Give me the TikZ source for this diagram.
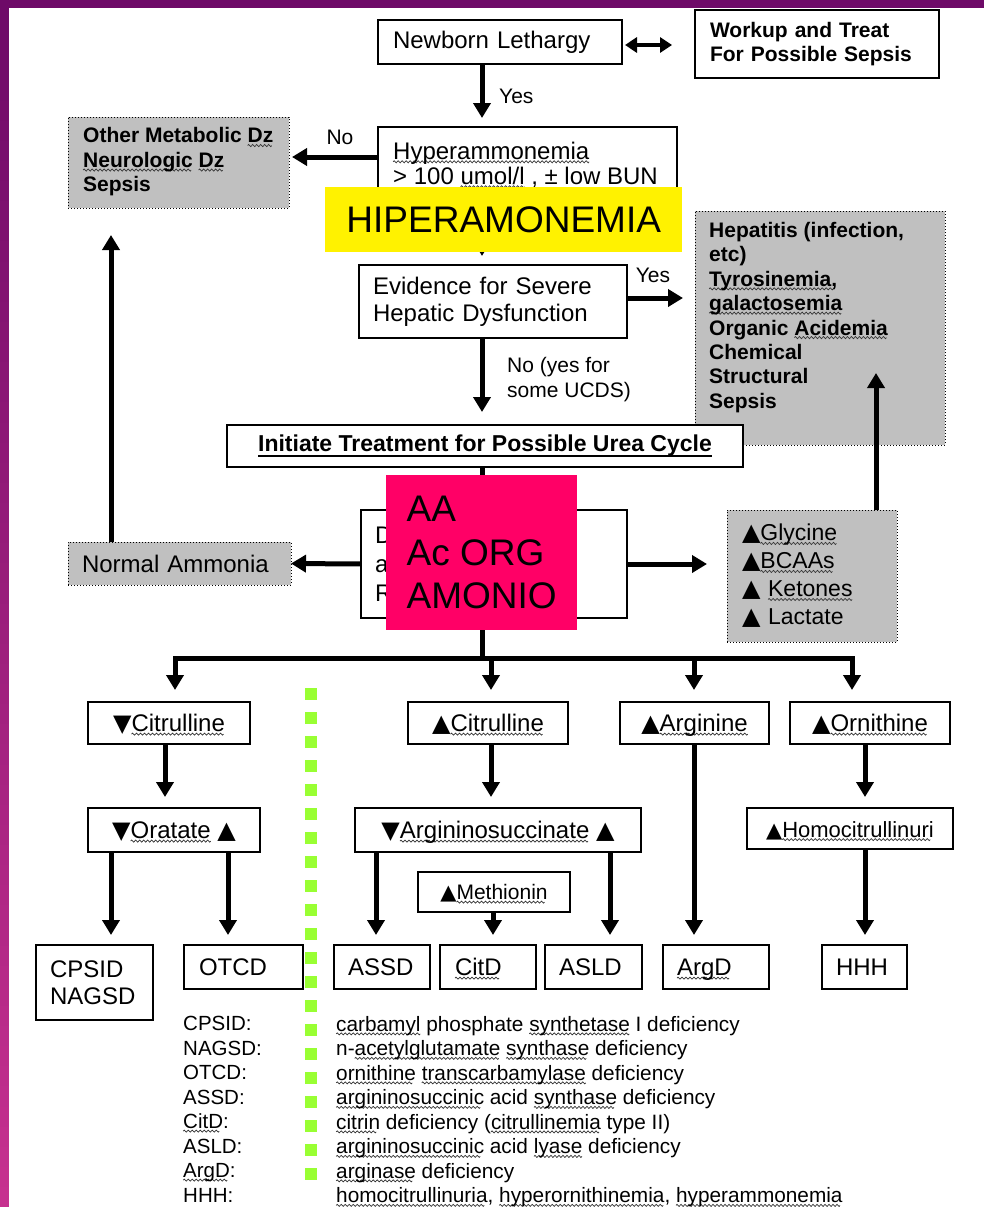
\documentclass[tikz,border=0pt]{standalone}
\usepackage{fontspec}
\setmainfont{Liberation Sans}
\newfontfamily\symf{DejaVu Sans}
\usetikzlibrary{arrows.meta}
\definecolor{purpA}{HTML}{6E0A68}
\definecolor{purpB}{HTML}{C6318F}
\definecolor{gboxc}{HTML}{C0C0C0}
\definecolor{pinkc}{HTML}{FF0066}
\definecolor{limec}{HTML}{99FF33}
\definecolor{wavec}{HTML}{333333}
\newcommand\upt{{\symf\fontsize{24}{24}\selectfont ▲}}
\newcommand\dnt{{\symf\fontsize{24}{24}\selectfont ▼}}
\newcommand\uptsm{{\symf\fontsize{21}{21}\selectfont ▲}}
\newsavebox\wavebox
\newcommand\sq[1]{\leavevmode\setbox0\hbox{#1}\rlap{\raisebox{-4pt}[0pt][0pt]{\hbox to \wd0{\leaders\copy\wavebox\hfill}}}\box0\relax}
\newcommand\ulbar[1]{\leavevmode\setbox0\hbox{#1}\rlap{\raisebox{-5pt}[0pt][0pt]{\rule{\wd0}{2pt}}}\box0\relax}
\tikzset{
 bx/.style={draw, line width=1.3pt, fill=white, inner sep=0pt, outer sep=0pt, anchor=north west},
 gb/.style={draw, line width=1pt, dash pattern=on 1pt off 2pt, fill=gboxc, inner sep=0pt, outer sep=0pt, anchor=north west},
 arr/.style={line width=5pt, -{Triangle[width=17pt,length=15pt]}},
 darr/.style={line width=4.5pt, {Triangle[width=15pt,length=12pt]}-{Triangle[width=15pt,length=12pt]}},
 thk/.style={line width=5pt},
 f24/.style={font=\fontsize{24}{27}\selectfont},
 tl/.style={text height=17pt, text depth=0pt},
 b21/.style={font=\bfseries\fontsize{21}{24.5}\selectfont},
 lbl/.style={font=\fontsize{21}{25}\selectfont, inner sep=0pt, align=left},
}
\begin{document}
\sbox\wavebox{\begin{pgfpicture}%
\pgfpathrectangle{\pgfpoint{0pt}{-1.4pt}}{\pgfpoint{4pt}{2.8pt}}%
\pgfusepath{use as bounding box}%
\pgfpathmoveto{\pgfpoint{0pt}{0pt}}%
\pgfpathcurveto{\pgfpoint{1pt}{1.4pt}}{\pgfpoint{1pt}{1.4pt}}{\pgfpoint{2pt}{0pt}}%
\pgfpathcurveto{\pgfpoint{3pt}{-1.4pt}}{\pgfpoint{3pt}{-1.4pt}}{\pgfpoint{4pt}{0pt}}%
\pgfsetlinewidth{0.7pt}\pgfsetstrokecolor{wavec}%
\pgfusepath{stroke}%
\end{pgfpicture}}%
\begin{tikzpicture}[x=1pt,y=-1pt]
\useasboundingbox (0,0) rectangle (984,1207);
\fill[white] (0,0) rectangle (984,1207);
% purple frame
\foreach \i in {0,...,59} {
  \pgfmathsetmacro\p{100*\i/59}
  \fill[purpB!\p!purpA] (0,\i*20.12) rectangle (9,\i*20.12+20.6);
}
\fill[purpA] (0,0) rectangle (984,8);
% green dotted column
\foreach \k in {0,...,20} \fill[limec] (305,688+24*\k) rectangle +(12,12);

% top part
\node[bx, f24, minimum width=244pt, minimum height=44pt, text width=214pt, align=left] (newborn) at (378,20) {Newborn Lethargy};
\node[bx, b21, minimum width=244pt, minimum height=68pt, text width=214pt, align=left] (workup) at (695,10) {Workup and Treat\\For Possible Sepsis};
\node[bx, minimum width=299pt, minimum height=75pt] (hyper) at (378,127) {};
\node[anchor=west, inner sep=0pt, align=left, font=\fontsize{24}{25}\selectfont] (hypertx) at (393,164.5) {\sq{Hyperammonemia}\\> 100 \sq{umol/l} , ± low BUN};
\node[gb, minimum width=221pt, minimum height=91pt] (other) at (68,117) {};
\node[anchor=west, inner sep=0pt, align=left, b21] (othertx) at (83,162) {Other Metabolic \sq{Dz}\\\sq{Neurologic} \sq{Dz}\\Sepsis};
\node[bx, f24, minimum width=268pt, minimum height=73pt, text width=240pt, align=left] (evid) at (359,265) {Evidence for Severe\\Hepatic Dysfunction};
\node[gb, minimum width=250pt, minimum height=234pt] (hep) at (695,211) {};
\node[anchor=north west, inner sep=0pt, align=left, font=\bfseries\fontsize{21}{24.4}\selectfont] (heptx) at (709,222) {Hepatitis (infection,\\etc)\\\sq{Tyrosinemia,}\\\sq{galactosemia}\\Organic \sq{Acidemia}\\Chemical\\Structural\\Sepsis};
\node[bx, minimum width=516pt, minimum height=42pt, font=\bfseries\fontsize{23}{23}\selectfont] (init) at (227,425) {\ulbar{Initiate Treatment for Possible Urea Cycle}};
\node[gb, f24, minimum width=223pt, minimum height=43pt, text width=195pt, align=left] (normal) at (68,542) {Normal Ammonia};
\node[gb, minimum width=170pt, minimum height=132pt, text width=140pt, align=left, font=\fontsize{23}{28}\selectfont] (gly) at (727,510) {\upt\sq{Glycine}\\\upt\sq{BCAAs}\\\upt\ \sq{Ketones}\\\upt\ Lactate};

% second level
\node[bx, f24, tl, minimum width=162pt, minimum height=42pt] (cit1) at (88,702) {\dnt\sq{Citrulline}};
\node[bx, f24, tl, minimum width=160pt, minimum height=42pt] (cit2) at (408,702) {\upt\sq{Citrulline}};
\node[bx, f24, tl, minimum width=149pt, minimum height=42pt] (arg) at (620,702) {\upt\sq{Arginine}};
\node[bx, f24, tl, minimum width=160pt, minimum height=42pt] (orn) at (790,702) {\upt\sq{Ornithine}};
% third level
\node[bx, f24, tl, minimum width=172pt, minimum height=44pt] (orat) at (88,808) {\dnt\sq{Oratate} \upt};
\node[bx, f24, tl, minimum width=286pt, minimum height=44pt] (argsuc) at (355,808) {\dnt\sq{Argininosuccinate} \upt};
\node[bx, tl, minimum width=206pt, minimum height=41pt, font=\fontsize{22}{22}\selectfont] (homoc) at (747,808) {\uptsm\sq{Homocitrullinuri}};
\node[bx, minimum width=152pt, minimum height=40pt, text height=15pt, text depth=0pt, font=\fontsize{21}{21}\selectfont] (meth) at (418,872) {\uptsm\sq{Methionin}};
% bottom level
\node[bx, f24, minimum width=117pt, minimum height=75pt, text width=89pt, align=left] (cpsid) at (36,945) {CPSID\\NAGSD};
\node[bx, f24, tl, minimum width=119pt, minimum height=44pt, text width=89pt, align=left] (otcd) at (184,945) {OTCD};
\node[bx, f24, tl, minimum width=96pt, minimum height=44pt, text width=68pt, align=left] (assd) at (334,945) {ASSD};
\node[bx, f24, tl, minimum width=96pt, minimum height=44pt, text width=66pt, align=left] (citd) at (440,945) {\sq{CitD}};
\node[bx, f24, tl, minimum width=97pt, minimum height=44pt, text width=69pt, align=left] (asld) at (545,945) {ASLD};
\node[bx, f24, tl, minimum width=106pt, minimum height=44pt, text width=78pt, align=left] (argd) at (663,945) {\sq{ArgD}};
\node[bx, f24, tl, minimum width=85pt, minimum height=44pt, text width=57pt, align=left] (hhh) at (822,945) {HHH};

% legend
\node[anchor=north west, inner sep=0pt, align=left, font=\fontsize{20.5}{24.5}\selectfont] (abbr) at (183,1016) {CPSID:\\NAGSD:\\OTCD:\\ASSD:\\\sq{CitD}:\\ASLD:\\\sq{ArgD}:\\HHH:};
\node[anchor=north west, inner sep=0pt, align=left, font=\fontsize{20.8}{24.5}\selectfont] (desc) at (336,1016) {\sq{carbamyl} phosphate \sq{synthetase} I deficiency\\n-\sq{acetylglutamate} \sq{synthase} deficiency\\\sq{ornithine} \sq{transcarbamylase} deficiency\\\sq{argininosuccinic} acid \sq{synthase} deficiency\\\sq{citrin} deficiency (\sq{citrullinemia} type II)\\\sq{argininosuccinic} acid \sq{lyase} deficiency\\\sq{arginase} deficiency\\\sq{homocitrullinuria}, \sq{hyperornithinemia}, \sq{hyperammonemia}};

% helper coordinates
\coordinate (sx) at (482,0);
\coordinate (ox) at (111,0);
\coordinate (y45) at (0,45);
\coordinate (y157) at (0,157);
\coordinate (y298) at (0,298);
\coordinate (bl) at (175,658);
\coordinate (b2) at (491,658);
\coordinate (b3) at (694,658);
\coordinate (br) at (852,658);
\coordinate (hepin) at (876,373);
\coordinate (c1) at (165,0);
\coordinate (c2) at (491,0);
\coordinate (c3) at (694,0);
\coordinate (c4) at (865,0);
\coordinate (c5) at (111,0);
\coordinate (c6) at (228,0);
\coordinate (c7) at (376,0);
\coordinate (c8) at (610,0);
\coordinate (c9) at (493,0);

% labels
\node[lbl, anchor=west] (yes1) at (499,96) {Yes};
\node[lbl] (no1) at (340,137) {No};
\node[lbl] (yes2) at (653,275) {Yes};
\node[lbl, anchor=north west] (nolbl) at (507,357) {No (yes for\\some UCDS)};

% connectors (top)
\draw[darr, shorten <=3pt, shorten >=23pt] (newborn.east |- y45) -- (workup.west |- y45);
\draw[arr, shorten >=9pt] (newborn.south -| sx) -- (hyper.north -| sx);
\draw[arr, shorten >=3pt] (hyper.west |- y157) -- (other.east |- y157);
\draw[arr, shorten >=9pt] (hyper.south -| sx) -- (evid.north -| sx);
\draw[arr, shorten >=12pt] (evid.east |- y298) -- (hep.west |- y298);
\draw[arr, shorten >=13pt] (evid.south -| sx) -- (init.north -| sx);
\draw[arr, shorten >=27pt] (normal.north -| ox) -- (other.south -| ox);
\draw[arr] (gly.north -| hepin) -- (hepin);
% spine and branch bar
\draw[thk] (init.south -| sx) -- (bl -| sx);
\draw[thk, line cap=rect] (bl) -- (br);
\draw[arr, shorten >=12pt] (bl) -- (bl |- cit1.north);
\draw[arr, shorten >=12pt] (b2) -- (b2 |- cit2.north);
\draw[arr, shorten >=12pt] (b3) -- (b3 |- arg.north);
\draw[arr, shorten >=12pt] (br) -- (br |- orn.north);
% lower connectors
\draw[arr, shorten >=11pt] (cit1.south -| c1) -- (orat.north -| c1);
\draw[arr, shorten >=11pt] (cit2.south -| c2) -- (argsuc.north -| c2);
\draw[arr, shorten >=10pt] (arg.south -| c3) -- (argd.north -| c3);
\draw[arr, shorten >=11pt] (orn.south -| c4) -- (homoc.north -| c4);
\draw[arr, shorten >=10pt] (orat.south -| c5) -- (cpsid.north -| c5);
\draw[arr, shorten >=10pt] (orat.south -| c6) -- (otcd.north -| c6);
\draw[arr, shorten >=10pt] (argsuc.south -| c7) -- (assd.north -| c7);
\draw[arr, shorten >=10pt] (argsuc.south -| c8) -- (asld.north -| c8);
\draw[arr, shorten >=10pt] (meth.south -| c9) -- (citd.north -| c9);
\draw[arr, shorten >=10pt] (homoc.south -| c4) -- (hhh.north -| c4);

% diagnostic box with overlays
\node[bx, minimum width=266pt, minimum height=108pt, text width=238pt, align=left, font=\fontsize{24}{29}\selectfont] (diag) at (361,510) {D\\a\\R};
\draw[arr] (diag.west) -- (normal.east);
\draw[arr, shorten >=20pt] (diag.east) -- (diag.east -| gly.west);
\node[fill=pinkc, minimum width=191pt, minimum height=155pt, inner sep=0pt, anchor=north west, align=left, font=\fontsize{37}{43.5}\selectfont] (pink) at (386,475) {AA\\Ac ORG\\AMONIO};
\node[fill=yellow, minimum width=357pt, minimum height=65pt, inner sep=0pt, anchor=north west, font=\fontsize{37}{37}\selectfont] (yel) at (325,187) {HIPERAMONEMIA};
\end{tikzpicture}
\end{document}
